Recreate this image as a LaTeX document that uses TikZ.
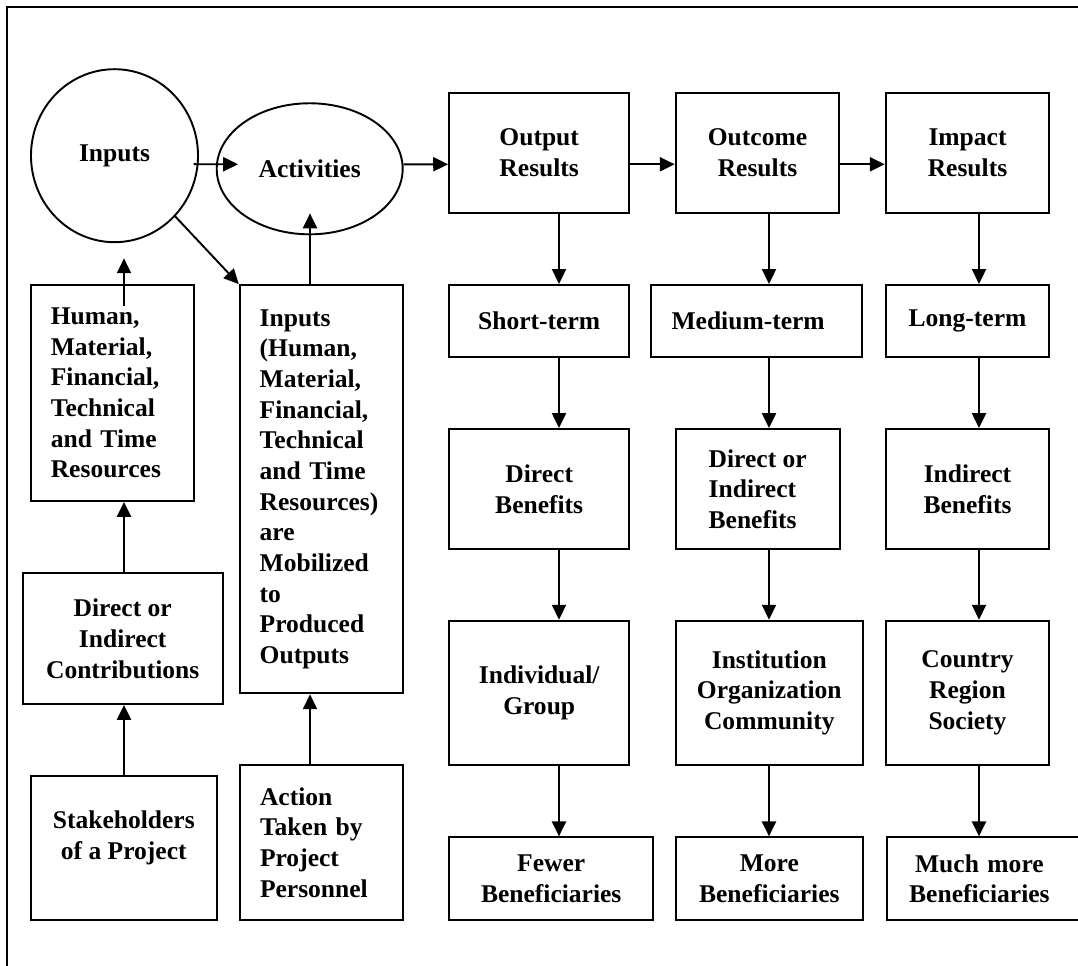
\documentclass[tikz,border=0pt]{standalone}
\usepackage{fontspec}
\setmainfont{Liberation Serif}
\usetikzlibrary{arrows.meta,shapes.geometric}

\begin{document}
\begin{tikzpicture}[x=0.47pt,y=-0.47pt,
    line width=0.9pt,
    font=\fontsize{12pt}{14.4pt}\selectfont\bfseries,
    box/.style={draw,rectangle,inner sep=0pt,align=center},
    lbox/.style={draw,rectangle,inner xsep=9.4pt,inner ysep=0pt,align=left,text width=57.8pt},
    arr/.style={-{Triangle[length=7pt,width=6.6pt]}}]
    \useasboundingbox (0,0) rectangle (1078,966);
    \clip (0,0) rectangle (1078,966);

    % frame (cut off at right and bottom)
    \draw (7,1000) -- (7,7) -- (1100,7);

    % top row
    \node[ellipse,draw,inner sep=0pt,minimum width=78.5pt,minimum height=81.3pt] (inputs) at (114.5,155.7) {Inputs};
    \node[ellipse,draw,inner sep=0pt,minimum width=87.4pt,minimum height=61.6pt] (act) at (309.7,168.8) {Activities};
    \node[box,minimum width=84.7pt,minimum height=56.4pt] (out) at (539.2,152.7) {Output\\Results};
    \node[box,minimum width=76.9pt,minimum height=56.4pt] (outc) at (757.5,152.7) {Outcome\\Results};
    \node[box,minimum width=76.9pt,minimum height=56.4pt] (imp) at (967.5,152.7) {Impact\\Results};

    % left columns
    \node[lbox,minimum height=101.5pt] (hum) at (112.3,393) {Human,\\Material,\\Financial,\\Technical\\and Time\\Resources};
    \node[box,minimum width=94pt,minimum height=61.4pt] (contrib) at (122.7,638.7) {Direct or\\Indirect\\Contributions};
    \node[box,text depth=12pt,minimum width=87.6pt,minimum height=67.8pt] (stake) at (123.8,847.8) {Stakeholders\\of a Project};
    \node[lbox,minimum height=191.9pt] (mobil) at (321.2,489.2) {Inputs\\(Human,\\Material,\\Financial,\\Technical\\and Time\\Resources)\\are\\Mobilized\\to\\Produced\\Outputs};
    \node[lbox,minimum height=72.9pt] (action) at (321.5,842.5) {Action\\Taken by\\Project\\Personnel};

    % result columns
    \node[box,minimum width=84.7pt,minimum height=33.7pt] (short) at (539.2,320.8) {Short-term};
    \node[lbox,text width=79.8pt,inner xsep=9.7pt,minimum height=33.7pt] (medium) at (756.5,320.8) {Medium-term};
    \node[box,minimum width=76.9pt,minimum height=33.7pt] (long) at (967.5,320.8) {Long-term};

    \node[box,minimum width=84.7pt,minimum height=56.4pt] (dben) at (539.2,489) {Direct\\Benefits};
    \node[box,align=left,minimum width=77.1pt,minimum height=56.4pt] (diben) at (757.7,489) {Direct or\\Indirect\\Benefits};
    \node[box,minimum width=76.9pt,minimum height=56.4pt] (iben) at (967.5,489) {Indirect\\Benefits};

    \node[box,minimum width=84.7pt,minimum height=67.8pt] (indiv) at (539.2,692.8) {Individual/\\Group};
    \node[box,minimum width=88pt,minimum height=67.8pt] (inst) at (769.3,692.8) {Institution\\Organization\\Community};
    \node[box,minimum width=76.9pt,minimum height=67.8pt] (country) at (967.5,692.8) {Country\\Region\\Society};

    \node[box,minimum width=96pt,minimum height=38.9pt] (fewer) at (551.2,878.7) {Fewer\\Beneficiaries};
    \node[box,minimum width=88pt,minimum height=38.9pt] (more) at (769.3,878.7) {More\\Beneficiaries};
    \node[lbox,anchor=west,text width=77.2pt,inner xsep=10.6pt,minimum height=38.9pt] (much) at (885.7,878.7) {\makebox[66pt]{Much more}\\Beneficiaries};

    % arrow columns
    \coordinate (c0) at (124,0);
    \coordinate (cm) at (310,0);
    \coordinate (c1) at (559,0);
    \coordinate (c2) at (769,0);
    \coordinate (c3) at (979,0);

    % arrows
    \draw[arr] ([xshift=-2.5pt,yshift=-4pt]inputs.east) -- ([xshift=10.5pt,yshift=2.1pt]act.west);
    \draw[arr] ([yshift=2.1pt]act.east) -- ([yshift=-5.45pt]out.west);
    \draw[arr] ([yshift=-5.45pt]out.east) -- ([yshift=-5.45pt]outc.west);
    \draw[arr] ([yshift=-5.45pt]outc.east) -- ([yshift=-5.45pt]imp.west);
    \draw[arr] (inputs.-45) -- (mobil.north west);

    \draw[arr] (hum.north -| c0) ++(0,22) -- ++(0,-47.7);
    \draw[arr] (contrib.north -| c0) -- (hum.south -| c0);
    \draw[arr] (stake.north -| c0) -- (contrib.south -| c0);
    \draw[arr] (mobil.north -| cm) -- ++(0,-70.7);
    \draw[arr] (action.north -| cm) -- (mobil.south -| cm);

    \foreach \a/\b/\c in {out/short/c1, short/dben/c1, dben/indiv/c1, indiv/fewer/c1,
        outc/medium/c2, medium/diben/c2, diben/inst/c2, inst/more/c2,
        imp/long/c3, long/iben/c3, iben/country/c3, country/much/c3}
        \draw[arr] (\a.south -| \c) -- (\b.north -| \c);

\end{tikzpicture}
\end{document}
